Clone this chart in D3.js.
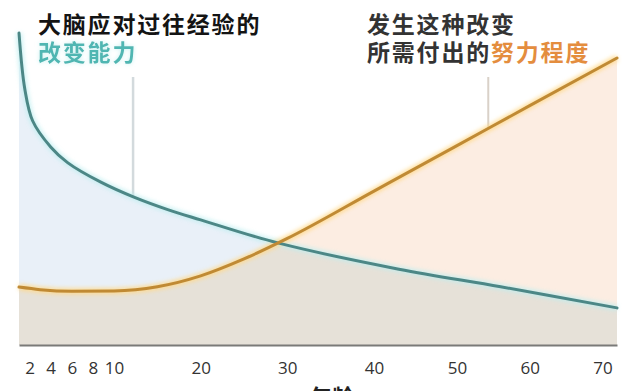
<!DOCTYPE html>
<html><head><meta charset="utf-8">
<script src="https://cdn.jsdelivr.net/npm/d3@7"></script>
<style>
html,body{margin:0;padding:0;background:#fff;overflow:hidden}
svg{display:block}
</style></head>
<body>
<svg id="c" width="640" height="391"></svg>
<script>
// ---- data ----
const abilityAges = [1, 1.55, 2.3, 4, 5.6, 8.8, 12.3, 16.2, 20, 28.9, 43, 56, 72];
const changeAbility = [97.5, 80.0, 70.0, 61.9, 57.0, 50.8, 46.2, 42.3, 39.1, 31.9, 23.7, 18.2, 11.6];
const effortAges = [1, 3, 6, 10, 15, 20, 25, 30, 40, 50, 60, 72];
const effortNeeded = [18.1, 17.3, 16.8, 16.9, 18.2, 21.6, 26.9, 33.3, 48.1, 62.3, 74.8, 89.7];
const tickAges = [2, 4, 6, 8, 10, 20, 30, 40, 50, 60, 70];
const guideAges = [12.2, 54.3];
const leftTitle = ["大脑应对过往经验的", "改变能力"];
const rightTitle = ["发生这种改变", "所需付出的", "努力程度"];
const axisTitle = "年龄";

// ---- layout ----
const svg = d3.select("#c");
const baseY = 345;
const x = d3.scaleLinear().domain([1, 10, 40, 50, 72]).range([19, 114, 374, 457, 617]);
const y = d3.scaleLinear().domain([0, 100]).range([baseY, 25]);

const teal = abilityAges.map((a, i) => ({a, v: changeAbility[i]}));
const orange = effortAges.map((a, i) => ({a, v: effortNeeded[i]}));

const defs = svg.append("defs");
const glow = defs.append("filter").attr("id", "glow").attr("x", "-20%").attr("y", "-20%").attr("width", "140%").attr("height", "140%");
glow.append("feGaussianBlur").attr("stdDeviation", 2);

const tglow = defs.append("filter").attr("id", "tglow").attr("x", "-10%").attr("y", "-30%").attr("width", "120%").attr("height", "160%");
tglow.append("feFlood").attr("flood-color", "#c6f2f2").attr("result", "f");
tglow.append("feComposite").attr("in", "f").attr("in2", "SourceAlpha").attr("operator", "in").attr("result", "c");
tglow.append("feGaussianBlur").attr("in", "c").attr("stdDeviation", 2).attr("result", "b");
const tm = tglow.append("feMerge");
tm.append("feMergeNode").attr("in", "b");
tm.append("feMergeNode").attr("in", "SourceGraphic");

const tealCurve = d3.curveCatmullRom.alpha(0.5);
const orangeCurve = d3.curveMonotoneX;
const areaT = d3.area().x(d => x(d.a)).y0(baseY).y1(d => y(d.v)).curve(tealCurve);
const lineT = d3.line().x(d => x(d.a)).y(d => y(d.v)).curve(tealCurve);
const areaO = d3.area().x(d => x(d.a)).y0(baseY).y1(d => y(d.v)).curve(orangeCurve);
const lineO = d3.line().x(d => x(d.a)).y(d => y(d.v)).curve(orangeCurve);

defs.append("clipPath").attr("id", "tealClip").append("path").attr("d", areaT(teal));

svg.append("path").attr("d", areaT(teal)).attr("fill", "#e9f0f8");
svg.append("path").attr("d", areaO(orange)).attr("fill", "#fcede2");
svg.append("path").attr("d", areaO(orange)).attr("fill", "#e6e1d8").attr("clip-path", "url(#tealClip)");

// guide lines
function interp(data, a) {
  for (let i = 1; i < data.length; i++) {
    if (a <= data[i].a) {
      const t = (a - data[i-1].a) / (data[i].a - data[i-1].a);
      return data[i-1].v + t * (data[i].v - data[i-1].v);
    }
  }
  return data[data.length-1].v;
}
const guideTop = 77;
svg.append("line").attr("x1", x(guideAges[0])).attr("x2", x(guideAges[0]))
  .attr("y1", guideTop).attr("y2", y(interp(teal, guideAges[0])))
  .attr("stroke", "#d3dadd").attr("stroke-width", 2.5);
svg.append("line").attr("x1", x(guideAges[1])).attr("x2", x(guideAges[1]))
  .attr("y1", guideTop).attr("y2", y(interp(orange, guideAges[1])))
  .attr("stroke", "#d9d1c8").attr("stroke-width", 2);

// lines with glow
svg.append("path").attr("d", lineT(teal)).attr("fill", "none").attr("stroke", "#bdeef0").attr("stroke-width", 6).attr("filter", "url(#glow)").attr("opacity", 0.8);
svg.append("path").attr("d", lineO(orange)).attr("fill", "none").attr("stroke", "#ffd98a").attr("stroke-width", 6).attr("filter", "url(#glow)").attr("opacity", 0.9);
svg.append("path").attr("d", lineT(teal)).attr("fill", "none").attr("stroke", "#4c8786").attr("stroke-width", 3).attr("stroke-linecap", "round");
svg.append("path").attr("d", lineO(orange)).attr("fill", "none").attr("stroke", "#c08a34").attr("stroke-width", 3).attr("stroke-linecap", "round");

// axis
const xAxis = d3.axisBottom(x).tickValues(tickAges).tickSize(0).tickSizeOuter(0).tickPadding(17).tickFormat(d3.format("d"));
const gx = svg.append("g").attr("transform", `translate(0,${baseY})`).call(xAxis);
gx.select(".domain").attr("stroke", "#7a7a78").attr("stroke-width", 2);
gx.selectAll("text").attr("font-family", "'Open Sans', sans-serif").attr("font-size", 17).attr("fill", "#333");

// titles
const cjk = "'Noto Sans CJK SC', sans-serif";
const tf = {"font-family": cjk, "font-size": 23, "font-weight": 700, "letter-spacing": 1.8};
function applyFont(sel) { Object.entries(tf).forEach(([k, v]) => sel.attr(k, v)); return sel; }

applyFont(svg.append("text").attr("x", 38).attr("y", 33).attr("fill", "#141414").text(leftTitle[0]));
applyFont(svg.append("text").attr("x", 38).attr("y", 61).attr("fill", "#4fb6b2").attr("filter", "url(#tglow)").text(leftTitle[1]));

applyFont(svg.append("text").attr("x", 367).attr("y", 33).attr("fill", "#333").text(rightTitle[0]));
const t2 = applyFont(svg.append("text").attr("x", 367).attr("y", 61));
t2.append("tspan").attr("fill", "#333").text(rightTitle[1]);
t2.append("tspan").attr("fill", "#e48d3e").text(rightTitle[2]);

// axis title (cut off by bottom edge, as in the reference)
svg.append("text").attr("x", 332).attr("y", 405).attr("text-anchor", "middle")
  .attr("font-family", cjk).attr("font-size", 22).attr("font-weight", 700).attr("fill", "#222").text(axisTitle);
</script>
</body></html>
